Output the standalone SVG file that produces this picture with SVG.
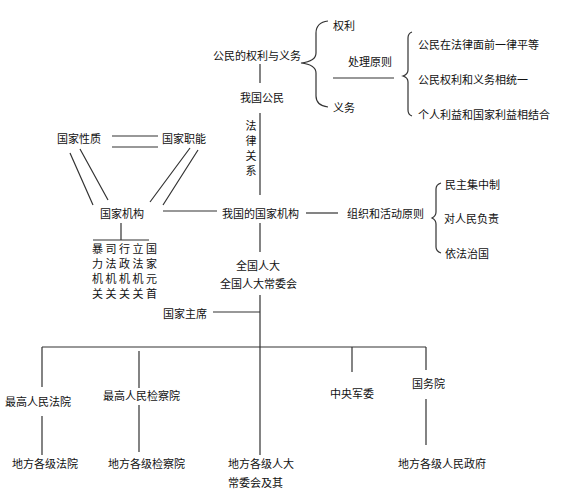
<svg xmlns="http://www.w3.org/2000/svg" width="563" height="501" viewBox="0 0 563 501">
<style>
text{font-family:"Noto Sans CJK SC","Noto Sans CJK TC",sans-serif;font-size:11px;fill:#111;dominant-baseline:central}
.ln{stroke:#333;stroke-width:1.2;fill:none}
</style>
<rect width="563" height="501" fill="#fff"/>
<g id="connectors">
<path class="ln" d="M328,21 C320,22 316,26 316,33 L316,53 C316,59 310,62 301,63 C310,64 316,67 316,73 L316,96 C316,103 320,106 328,107"/>
<path class="ln" d="M333,78 H394"/>
<path class="ln" d="M412,32 C409,33 408,35 408,38 L408,70 C408,73 406,75 403,76 C406,77 408,79 408,82 L408,110 C408,113 409,115 412,116"/>
<path class="ln" d="M260,64 V83 M260,113 V195 M260,223 V252 M260,295 V455"/>
<path class="ln" d="M306,213 H338"/>
<path class="ln" d="M441,183 C438,184 436,186 436,189 L436,212 C436,215 434,217 432,218 C434,219 436,221 436,224 L436,247 C436,250 438,252 441,253"/>
<path class="ln" d="M112,136 H158 M112,147 H158"/>
<path class="ln" d="M70,153 L93,205 M80,149 L108,200 M190,148 L150,202 M198,150 L163,205"/>
<path class="ln" d="M163,211 H217"/>
<path class="ln" d="M121,223 V240 M93,240 H149"/>
<path class="ln" d="M213,312 H260"/>
<path class="ln" d="M42,347 H426"/>
<path class="ln" d="M42,347 V387 M42,416 V455"/>
<path class="ln" d="M139,351 V388 M139,405 V452"/>
<path class="ln" d="M352,347 V372"/>
<path class="ln" d="M426,347 V370 M426,399 V445"/>
</g>
<g id="n-rights-duties"><text x="213" y="55">公民的权利与义务</text></g>
<g id="n-rights"><text x="333" y="25">权利</text></g>
<g id="n-duties"><text x="333" y="107">义务</text></g>
<g id="n-principle"><text x="348" y="61">处理原则</text></g>
<g id="n-p1"><text x="418" y="44">公民在法律面前一律平等</text></g>
<g id="n-p2"><text x="418" y="79">公民权利和义务相统一</text></g>
<g id="n-p3"><text x="418" y="114">个人利益和国家利益相结合</text></g>
<g id="n-citizen"><text x="240" y="97">我国公民</text></g>
<g id="n-legal"><text x="251" y="125" text-anchor="middle">法</text><text x="251" y="140" text-anchor="middle">律</text><text x="251" y="155" text-anchor="middle">关</text><text x="251" y="170" text-anchor="middle">系</text></g>
<g id="n-organs"><text x="222" y="213">我国的国家机构</text></g>
<g id="n-orgprinciple"><text x="347" y="213">组织和活动原则</text></g>
<g id="n-o1"><text x="445" y="184">民主集中制</text></g>
<g id="n-o2"><text x="444" y="218">对人民负责</text></g>
<g id="n-o3"><text x="445" y="253">依法治国</text></g>
<g id="n-nature"><text x="57" y="138">国家性质</text></g>
<g id="n-function"><text x="162" y="138">国家职能</text></g>
<g id="n-machine"><text x="100" y="213">国家机构</text></g>
<g id="n-list"><text x="92" y="248" letter-spacing="2.5">暴司行立国</text><text x="92" y="263" letter-spacing="2.5">力法政法家</text><text x="92" y="278" letter-spacing="2.5">机机机机元</text><text x="92" y="293" letter-spacing="2.5">关关关关首</text></g>
<g id="n-npc"><text x="236" y="265">全国人大</text><text x="220" y="283">全国人大常委会</text></g>
<g id="n-president"><text x="163" y="313">国家主席</text></g>
<g id="n-court"><text x="5" y="401">最高人民法院</text></g>
<g id="n-local-court"><text x="12" y="463">地方各级法院</text></g>
<g id="n-procur"><rect x="102" y="388" width="81" height="15" fill="#fff"/><text x="103" y="395">最高人民检察院</text></g>
<g id="n-local-procur"><text x="108" y="463">地方各级检察院</text></g>
<g id="n-local-npc"><text x="228" y="463">地方各级人大</text><text x="228" y="482">常委会及其</text></g>
<g id="n-cmc"><text x="330" y="393">中央军委</text></g>
<g id="n-state-council"><text x="412" y="383">国务院</text></g>
<g id="n-local-gov"><text x="398" y="463">地方各级人民政府</text></g>
</svg>
